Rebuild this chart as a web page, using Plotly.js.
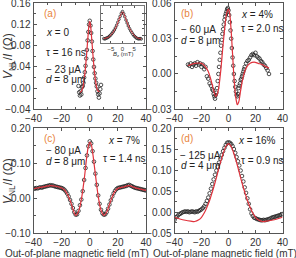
<!DOCTYPE html>
<html>
<head>
<meta charset="utf-8">
<script src="https://cdn.plot.ly/plotly-3.0.1.min.js"></script>
<style>html,body{margin:0;padding:0;background:#fff}#chart{width:296px;height:258px}</style>
</head>
<body>
<div id="chart"></div>
<script>
// ---- Panel (a): x = 0 ----
const aField = [-8,-7.5,-7,-6.5,-6,-5.5,-5,-4.5,-4,-3.5,-3,-2.5,-2,-1.5,-1,-0.5,0,0.5,1,1.5,2,2.5,3,3.5,4,4.5,5,5.5,6,6.5,7,7.5,8];
const aData  = [0.004,-0.008,-0.014,-0.006,-0.012,0.002,0.004,0.010,0.020,0.030,0.042,0.056,0.072,0.090,0.106,0.120,0.127,0.118,0.104,0.088,0.070,0.054,0.040,0.028,0.018,0.010,0.003,-0.006,-0.012,-0.018,-0.010,-0.002,0.006];
const aFitField = [-7,-6,-5,-4,-3,-2,-1,-0.5,0,0.5,1,2,3,4,5,6,7];
const aFit      = [-0.008,-0.006,0.000,0.016,0.040,0.072,0.106,0.120,0.126,0.120,0.106,0.072,0.040,0.016,0.000,-0.006,-0.006];
// inset of (a)
const inField = [-8,-7.5,-7,-6.5,-6,-5.5,-5,-4.5,-4,-3.5,-3,-2.5,-2,-1.5,-1,-0.5,0,0.5,1,1.5,2,2.5,3,3.5,4,4.5,5,5.5,6,6.5,7,7.5,8];
const inData  = [0.12,0.11,0.13,0.14,0.16,0.19,0.22,0.26,0.30,0.35,0.41,0.48,0.56,0.64,0.72,0.80,0.85,0.79,0.71,0.62,0.54,0.46,0.39,0.33,0.28,0.23,0.19,0.16,0.13,0.12,0.11,0.12,0.11];
const inFitField = [-8,-6,-4,-3,-2,-1,0,1,2,3,4,6,8];
const inFit      = [0.12,0.16,0.29,0.40,0.55,0.72,0.84,0.72,0.55,0.40,0.29,0.15,0.11];
const inTicks = [-5,0,5];

// ---- Panel (b): x = 4% ----
const bField = [-30,-29,-28,-27,-26,-25,-24,-23,-22,-21,-20,-19,-18,-17,-16,-15,-14,-13,-12,-11.5,-11,-10.5,-10,-9.5,-9,-8.5,-8,-7.5,-7,-6.5,-6,-5.5,-5,-4.5,-4,-3.5,-3,-2.5,-2,-1.5,-1,-0.5,0,0.5,1,1.5,2,2.5,3,3.5,4,4.5,5,5.5,6,6.5,7,7.5,8,8.5,9,9.5,10,10.5,11,11.5,12,13,14,15,16,17,18,19,20,21,22,23,24,25,26,27,28,29,30];
const bData  = [0.008,0.007,0.009,0.006,0.008,0.009,0.007,0.010,0.008,0.009,0.006,0.008,0.004,0.006,-0.002,-0.004,-0.008,-0.010,-0.013,-0.014,-0.017,-0.019,-0.021,-0.018,-0.016,-0.012,-0.006,0.000,0.006,0.012,0.018,0.024,0.029,0.034,0.038,0.042,0.046,0.049,0.051,0.053,0.055,0.056,0.054,0.050,0.044,0.037,0.030,0.022,0.014,0.007,0.000,-0.006,-0.011,-0.015,-0.018,-0.019,-0.017,-0.012,-0.010,-0.008,-0.005,-0.004,-0.002,0.000,0.002,0.004,0.006,0.009,0.011,0.012,0.014,0.016,0.017,0.016,0.018,0.015,0.014,0.013,0.011,0.010,0.008,0.007,0.005,0.003,0.000];
const bFitField = [-30,-25,-20,-17,-15,-13,-11,-9.5,-8,-6,-4,-2,-1,0,1,2,3,4,5,6,6.5,7.5,9,11,13,16,19,22,25,28,30];
const bFit      = [0.007,0.009,0.009,0.006,0.002,-0.005,-0.014,-0.019,-0.016,0.000,0.025,0.047,0.053,0.055,0.050,0.036,0.017,-0.002,-0.016,-0.024,-0.026,-0.024,-0.014,-0.002,0.005,0.009,0.010,0.009,0.008,0.006,0.005];

// ---- Panel (c): x = 7% ----
const cField = [-40,-39,-38,-37,-36,-35,-34,-33,-32,-31,-30,-29,-28,-27,-26,-25,-24,-23,-22,-21,-20,-19,-18,-17,-16,-15,-14,-13,-12,-11,-10,-9,-8,-7,-6,-5,-4,-3,-2,-1,0,1,2,3,4,5,6,7,8,9,10,11,12,13,14,15,16,17,18,19,20,21,22,23,24,25,26,27,28,29,30,31,32,33,34,35,36,37,38,39,40];
const cData  = [0.028,0.027,0.029,0.028,0.030,0.031,0.030,0.032,0.033,0.034,0.035,0.036,0.037,0.036,0.036,0.034,0.033,0.032,0.031,0.030,0.029,0.027,0.024,0.019,0.013,0.005,-0.005,-0.016,-0.028,-0.040,-0.047,-0.046,-0.036,-0.020,-0.004,0.020,0.052,0.086,0.122,0.148,0.162,0.156,0.134,0.104,0.070,0.038,0.008,-0.016,-0.033,-0.043,-0.047,-0.046,-0.040,-0.030,-0.018,-0.006,0.005,0.014,0.021,0.026,0.029,0.030,0.031,0.032,0.033,0.034,0.035,0.037,0.038,0.036,0.034,0.032,0.030,0.029,0.028,0.027,0.026,0.025,0.024,0.023,0.022];
const cFitField = [-40,-36,-32,-28,-24,-20,-18,-16,-14,-12,-10,-8,-6,-4,-2,-1,0,1,2,4,6,8,10,12,14,16,18,20,24,28,32,36,40];
const cFit      = [0.027,0.030,0.033,0.036,0.034,0.029,0.024,0.012,-0.006,-0.030,-0.049,-0.038,-0.004,0.052,0.122,0.148,0.160,0.154,0.132,0.068,0.006,-0.034,-0.049,-0.040,-0.018,0.004,0.020,0.028,0.032,0.036,0.030,0.026,0.022];

// ---- Panel (d): x = 16% ----
const dField = [-40,-39,-38,-37,-36,-35,-34,-33,-32,-31,-30,-29,-28,-27,-26,-25,-24,-23,-22,-21,-20,-19,-18,-17,-16,-15,-14,-13,-12,-11,-10,-9,-8,-7,-6,-5,-4,-3,-2,-1,0,1,2,3,4,5,6,7,8,9,10,11,12,13,14,15,16,17,18,19,20,21,22,23,24,25,26,27,28,29,30,31,32,33,34,35,36,37,38,39,40];
const dData  = [-0.018,-0.012,-0.010,-0.006,-0.004,-0.002,0.000,0.001,0.002,0.001,0.002,0.000,0.001,0.002,0.001,0.000,0.002,0.001,0.003,0.005,0.007,0.010,0.014,0.020,0.027,0.035,0.045,0.056,0.067,0.078,0.089,0.099,0.108,0.118,0.127,0.136,0.145,0.153,0.160,0.165,0.166,0.165,0.162,0.157,0.150,0.141,0.131,0.121,0.111,0.099,0.086,0.073,0.059,0.046,0.033,0.020,0.007,-0.003,-0.009,-0.013,-0.014,-0.016,-0.017,-0.018,-0.019,-0.019,-0.018,-0.019,-0.018,-0.017,-0.016,-0.015,-0.013,-0.012,-0.011,-0.010,-0.009,-0.008,-0.007,-0.006,-0.004];
const dFitField = [-40,-36,-32,-28,-25,-22,-20,-18,-16,-14,-12,-10,-8,-6,-4,-2,0,2,4,6,8,10,12,14,16,18,20,22,25,28,32,36,40];
const dFit      = [-0.012,-0.016,-0.019,-0.021,-0.022,-0.018,-0.012,-0.002,0.012,0.028,0.048,0.070,0.094,0.118,0.139,0.156,0.163,0.156,0.139,0.118,0.094,0.070,0.048,0.028,0.012,-0.002,-0.012,-0.018,-0.022,-0.021,-0.019,-0.016,-0.012];

const W = 296, H = 258;
const FONT = 'Liberation Sans, Arial, sans-serif';
const TXT = '#333';
const RED = '#e0323c';
const ORANGE = '#e8843c';
const px = v => v / W;
const py = v => 1 - v / H;

function dataTrace(x, y, xa, ya, size) {
  return {x, y, xaxis: xa, yaxis: ya, type: 'scatter', mode: 'markers',
          marker: {symbol: 'circle-open', size: size || 3.6, color: '#222', line: {width: 0.8, color: '#222'}}};
}
function fitTrace(x, y, xa, ya, w) {
  return {x, y, xaxis: xa, yaxis: ya, type: 'scatter', mode: 'lines',
          line: {color: RED, width: w || 1.2, shape: 'spline', smoothing: 1}};
}

const traces = [
  dataTrace(aField, aData, 'x', 'y'), fitTrace(aFitField, aFit, 'x', 'y'),
  dataTrace(bField, bData, 'x2', 'y2'), fitTrace(bFitField, bFit, 'x2', 'y2'),
  dataTrace(cField, cData, 'x3', 'y3'), fitTrace(cFitField, cFit, 'x3', 'y3'),
  dataTrace(dField, dData, 'x4', 'y4'), fitTrace(dFitField, dFit, 'x4', 'y4'),
  dataTrace(inField, inData, 'x5', 'y5', 2.6), fitTrace(inFitField, inFit, 'x5', 'y5', 0.9)
];

function xax(dom, anchor) {
  return {domain: dom, anchor, range: [-40, 40], dtick: 20, tick0: 0,
    ticks: 'inside', ticklen: 3, tickcolor: '#555', mirror: 'ticks', showline: true,
    linecolor: '#555', linewidth: 1, showgrid: false, zeroline: false,
    minor: {dtick: 10, ticks: 'inside', ticklen: 2, tickcolor: '#555'},
    ticklabeloverflow: 'allow',
    tickfont: {size: 10, color: TXT, family: FONT}, fixedrange: true};
}
function yax(dom, anchor, range, dtick) {
  return {domain: dom, anchor, range, dtick, tick0: 0, tickformat: '.2f',
    ticks: 'inside', ticklen: 3, tickcolor: '#555', mirror: 'ticks', showline: true,
    linecolor: '#555', linewidth: 1, showgrid: false, zeroline: false,
    minor: {dtick: dtick / 2, ticks: 'inside', ticklen: 2, tickcolor: '#555'},
    ticklabeloverflow: 'allow',
    tickfont: {size: 10, color: TXT, family: FONT}, fixedrange: true};
}

const xL = [px(33.5), px(146)], xR = [px(174.5), px(282.5)];
const yT = [py(109.3), py(3.3)], yB = [py(233.3), py(128)];

const layout = {
  width: W, height: H, margin: {l: 0, r: 0, t: 0, b: 0},
  paper_bgcolor: '#fff', plot_bgcolor: 'rgba(0,0,0,0)', showlegend: false,
  font: {family: FONT, color: TXT, size: 10},
  xaxis: xax(xL, 'y'), yaxis: yax(yT, 'x', [-0.04, 0.16], 0.04),
  xaxis2: xax(xR, 'y2'), yaxis2: yax(yT, 'x2', [-0.03, 0.06], 0.03),
  xaxis3: xax(xL, 'y3'), yaxis3: yax(yB, 'x3', [-0.10, 0.20], 0.10),
  xaxis4: xax(xR, 'y4'), yaxis4: yax(yB, 'x4', [-0.05, 0.20], 0.05),
  xaxis5: {domain: [px(101), px(144)], anchor: 'y5', range: [-9.2, 9.2], tickvals: inTicks,
    ticks: 'inside', ticklen: 2, tickcolor: '#555', mirror: 'ticks', ticklabeloverflow: 'allow',
    showline: true, linecolor: '#555', linewidth: 0.8, showgrid: false, zeroline: false,
    tickfont: {size: 6, color: TXT, family: FONT}, fixedrange: true},
  yaxis5: {domain: [py(43), py(6)], anchor: 'x5', range: [0, 1], dtick: 0.2,
    ticks: 'inside', ticklen: 2, tickcolor: '#555', mirror: 'ticks', showticklabels: false,
    showline: true, linecolor: '#555', linewidth: 0.8, showgrid: false, zeroline: false, fixedrange: true},
  annotations: []
};

function note(text, x, y, opts) {
  layout.annotations.push(Object.assign({text, x: px(x), y: py(y), xref: 'paper', yref: 'paper',
    xanchor: 'left', yanchor: 'middle', showarrow: false,
    font: {size: 10, color: '#222', family: FONT}}, opts || {}));
}
const lab = {font: {size: 10, color: ORANGE, family: FONT}};
// (a)
note('(a)', 42, 14, lab);
note('<i>x</i> = 0', 44, 32);
note('τ = 16 ns', 44, 52);
note('− 23 μA', 44, 69.5);
note('<i>d</i> = 8 μm', 44, 79);
// (b)
note('(b)', 179, 13.5, lab);
note('<i>x</i> = 4%', 239, 15);
note('τ = 2.0 ns', 239, 29);
note('− 60 μA', 179, 29.5);
note('<i>d</i> = 8 μm', 179, 40);
// (c)
note('(c)', 42, 138.3, lab);
note('− 80 μA', 44, 150);
note('<i>d</i> = 8 μm', 44, 161.7);
note('<i>x</i> = 7%', 106, 140);
note('τ = 1.4 ns', 101, 158.3);
// (d)
note('(d)', 179, 138.3, lab);
note('<i>x</i> = 16%', 236, 140);
note('− 125 μA', 177.5, 155);
note('<i>d</i> = 4 μm', 179, 165);
note('τ = 0.9 ns', 239, 160);
// inset axis title
note('<i>B</i><sub>z</sub> (mT)', 122.5, 55, {xanchor: 'center', font: {size: 6, color: TXT, family: FONT}});
// y titles
const ytitle = '<i>V</i><sub>NL</sub>/<i>I</i> (Ω)';
note(ytitle, 9, 56, {xanchor: 'center', textangle: -90, font: {size: 12, color: TXT, family: FONT}});
note(ytitle, 9, 181, {xanchor: 'center', textangle: -90, font: {size: 12, color: TXT, family: FONT}});
// x titles
const xtitle = 'Out-of-plane magnetic field (mT)';
note(xtitle, 76.5, 253, {xanchor: 'center', font: {size: 10, color: TXT, family: FONT}});
note(xtitle, 225, 253, {xanchor: 'center', font: {size: 10, color: TXT, family: FONT}});

// Move Plotly's own axis label layers to the top-most svg so nothing can cover them,
// and undo any hiding applied to them.
function liftTickLabels(gd) {
  const svgs = gd.querySelectorAll('svg.main-svg');
  if (!svgs.length) return;
  const top = svgs[svgs.length - 1];
  let holder = top.querySelector('g.lifted-ticklabels');
  if (!holder) {
    holder = document.createElementNS('http://www.w3.org/2000/svg', 'g');
    holder.setAttribute('class', 'lifted-ticklabels');
    top.appendChild(holder);
  }
  gd.querySelectorAll('g.xaxislayer-above, g.yaxislayer-above').forEach(layer => {
    if (layer.parentNode !== holder) holder.appendChild(layer);
  });
  holder.querySelectorAll('*').forEach(n => {
    n.removeAttribute('clip-path');
    if (n.getAttribute('display') === 'none') n.removeAttribute('display');
    if (n.style) {
      if (n.style.display === 'none') n.style.display = '';
      n.style.visibility = 'visible';
      if (n.tagName.toLowerCase() === 'text' || n.tagName.toLowerCase() === 'g') n.style.opacity = '1';
    }
  });
  holder.querySelectorAll('text').forEach(t => { t.style.fill = TXT; t.style.fillOpacity = '1'; });
}

Plotly.newPlot('chart', traces, layout, {staticPlot: true, displayModeBar: false}).then(gd => {
  liftTickLabels(gd);
  setTimeout(() => liftTickLabels(gd), 50);
  setTimeout(() => liftTickLabels(gd), 300);
});
</script>
</body>
</html>
